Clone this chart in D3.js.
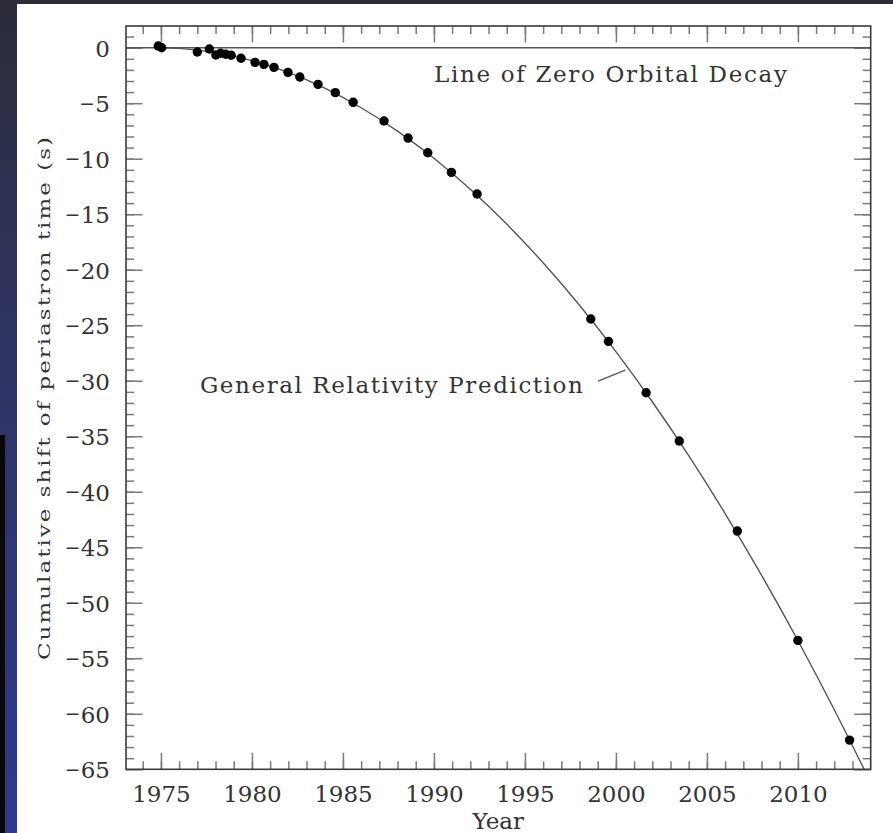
<!DOCTYPE html>
<html>
<head>
<meta charset="utf-8">
<script src="https://cdn.jsdelivr.net/npm/d3@7/dist/d3.min.js"></script>
<style>
  html, body { margin: 0; padding: 0; background: #ffffff; }
  svg { display: block; }
</style>
</head>
<body>
<script>
// ---- Data ----
const obsYears = [1974.85, 1975.04, 1977.0, 1977.66, 1978.02, 1978.28, 1978.56, 1978.86, 1979.4,
  1980.17, 1980.66, 1981.21, 1981.98, 1982.63, 1983.63, 1984.58, 1985.56, 1987.26, 1988.58,
  1989.66, 1990.96, 1992.37, 1998.62, 1999.59, 2001.66, 2003.48, 2006.67, 2010.0, 2012.84];
const obsShift = [0.15, 0.0, -0.39, -0.12, -0.66, -0.5, -0.59, -0.68, -0.95,
  -1.32, -1.5, -1.77, -2.22, -2.64, -3.30, -4.05, -4.92, -6.60, -8.14,
  -9.46, -11.23, -13.18, -24.44, -26.45, -31.08, -35.43, -43.54, -53.39, -62.37];

const grYears = [1974.8, 1976, 1978, 1980, 1982, 1984, 1986, 1988, 1990, 1992, 1994,
  1996, 1998, 2000, 2002, 2004, 2006, 2008, 2010, 2012, 2013.7];
const grShift = [0, -0.06, -0.44, -1.17, -2.23, -3.65, -5.41, -7.51, -9.96, -12.75, -15.89,
  -19.37, -23.20, -27.37, -31.89, -36.75, -41.96, -47.51, -53.40, -59.64, -65.2];

const xMajorTicks = [1975, 1980, 1985, 1990, 1995, 2000, 2005, 2010];
const xMinorTicks = d3.range(1974, 2014, 1);
const yMajorTicks = [0, -5, -10, -15, -20, -25, -30, -35, -40, -45, -50, -55, -60, -65];
const yMinorTicks = d3.range(-64, 2, 1);

const xLabel = "Year";
const yLabel = "Cumulative shift of periastron time (s)";
const zeroLabel = "Line of Zero Orbital Decay";
const grLabel = "General Relativity Prediction";

// ---- Layout ----
const W = 893, H = 833;
const plot = { left: 126, right: 870.7, top: 26, bottom: 769.3 };

const svg = d3.select("body").append("svg").attr("width", W).attr("height", H);

// slide background pieces
const defs = svg.append("defs");
const grad = defs.append("linearGradient").attr("id", "sideGrad")
  .attr("x1", 0).attr("y1", 0).attr("x2", 0).attr("y2", 1);
grad.append("stop").attr("offset", "0%").attr("stop-color", "#2c2d39");
grad.append("stop").attr("offset", "30%").attr("stop-color", "#2e3258");
grad.append("stop").attr("offset", "100%").attr("stop-color", "#2f3a8e");
svg.append("rect").attr("x", 0).attr("y", 0).attr("width", W).attr("height", 4).attr("fill", "#2c2d38");
svg.append("rect").attr("x", 0).attr("y", 0).attr("width", 17).attr("height", H).attr("fill", "url(#sideGrad)");
svg.append("rect").attr("x", 0).attr("y", 435).attr("width", 5).attr("height", H - 435).attr("fill", "#060906");

const x = d3.scaleLinear().domain([1973.08, 2014.0]).range([plot.left, plot.right]);
const y = d3.scaleLinear().domain([-65, 1.955]).range([plot.bottom, plot.top]);

const FONT = "'DejaVu Serif', 'Liberation Serif', serif";
const TXT = "#333333";
const TICK = "#7a7a7a";
const MAJ = 16.5, MIN = 8;

function styleAxis(g) {
  g.select(".domain").remove();
  g.selectAll(".tick line").attr("stroke", TICK).attr("stroke-width", 1.5);
}

// minor ticks
svg.append("g").attr("transform", `translate(0,${plot.bottom})`)
  .call(d3.axisBottom(x).tickValues(xMinorTicks).tickSizeInner(-MIN).tickSizeOuter(0).tickFormat(""))
  .call(styleAxis);
svg.append("g").attr("transform", `translate(0,${plot.top})`)
  .call(d3.axisTop(x).tickValues(xMinorTicks).tickSizeInner(-MIN).tickSizeOuter(0).tickFormat(""))
  .call(styleAxis);
svg.append("g").attr("transform", `translate(${plot.left},0)`)
  .call(d3.axisLeft(y).tickValues(yMinorTicks).tickSizeInner(-MIN).tickSizeOuter(0).tickFormat(""))
  .call(styleAxis);
svg.append("g").attr("transform", `translate(${plot.right},0)`)
  .call(d3.axisRight(y).tickValues(yMinorTicks).tickSizeInner(-MIN).tickSizeOuter(0).tickFormat(""))
  .call(styleAxis);

// major ticks with labels
const gx = svg.append("g").attr("transform", `translate(0,${plot.bottom})`)
  .call(d3.axisBottom(x).tickValues(xMajorTicks).tickSizeInner(-MAJ).tickSizeOuter(0).tickFormat(d3.format("d")))
  .call(styleAxis);
gx.selectAll(".tick text").attr("y", 32.4).attr("dy", 0)
  .attr("font-family", FONT).attr("font-size", 23).attr("fill", TXT);

svg.append("g").attr("transform", `translate(0,${plot.top})`)
  .call(d3.axisTop(x).tickValues(xMajorTicks).tickSizeInner(-MAJ).tickSizeOuter(0).tickFormat(""))
  .call(styleAxis);

const gy = svg.append("g").attr("transform", `translate(${plot.left},0)`)
  .call(d3.axisLeft(y).tickValues(yMajorTicks).tickSizeInner(-MAJ).tickSizeOuter(0)
    .tickFormat(d => d < 0 ? "\u2212" + Math.abs(d) : String(d)))
  .call(styleAxis);
gy.selectAll(".tick text").attr("x", -16).attr("y", 8.5).attr("dy", 0)
  .attr("font-family", FONT).attr("font-size", 23).attr("fill", TXT)
  .each(function (d) {
    if (d < 0) {
      const t = d3.select(this);
      t.text(null);
      t.append("tspan").attr("font-size", 18.5).attr("dy", -2.5).text("\u2212");
      t.append("tspan").attr("dy", 2.5).attr("dx", 0.5).text(Math.abs(d));
    }
  });

svg.append("g").attr("transform", `translate(${plot.right},0)`)
  .call(d3.axisRight(y).tickValues(yMajorTicks).tickSizeInner(-MAJ).tickSizeOuter(0).tickFormat(""))
  .call(styleAxis);

// clip
defs.append("clipPath").attr("id", "plotClip").append("rect")
  .attr("x", plot.left).attr("y", plot.top)
  .attr("width", plot.right - plot.left).attr("height", plot.bottom - plot.top);

// zero line
svg.append("line")
  .attr("x1", plot.left).attr("x2", plot.right)
  .attr("y1", y(0)).attr("y2", y(0))
  .attr("stroke", "#555").attr("stroke-width", 1.5);

// GR prediction curve
const grData = grYears.map((t, i) => [t, grShift[i]]);
svg.append("path")
  .datum(grData)
  .attr("clip-path", "url(#plotClip)")
  .attr("fill", "none")
  .attr("stroke", "#555")
  .attr("stroke-width", 1.4)
  .attr("d", d3.line().x(d => x(d[0])).y(d => y(d[1])).curve(d3.curveNatural));

// observed points
const obsData = obsYears.map((t, i) => [t, obsShift[i]]);
svg.append("g").selectAll("circle")
  .data(obsData)
  .join("circle")
  .attr("cx", d => x(d[0]))
  .attr("cy", d => y(d[1]))
  .attr("r", 4.7)
  .attr("fill", "#000");

// frame
svg.append("rect")
  .attr("x", plot.left).attr("y", plot.top)
  .attr("width", plot.right - plot.left).attr("height", plot.bottom - plot.top)
  .attr("fill", "none").attr("stroke", "#3a3a3a").attr("stroke-width", 1.6);

// annotations
svg.append("text")
  .attr("x", x(1990.0)).attr("y", y(-3.06))
  .attr("font-family", FONT).attr("font-size", 23).attr("fill", TXT)
  .attr("textLength", 353).attr("lengthAdjust", "spacing")
  .text(zeroLabel);

svg.append("text")
  .attr("x", x(1977.14)).attr("y", y(-31.1))
  .attr("font-family", FONT).attr("font-size", 23).attr("fill", TXT)
  .attr("textLength", 383).attr("lengthAdjust", "spacing")
  .text(grLabel);

svg.append("line")
  .attr("x1", x(1999.02)).attr("y1", y(-30.03))
  .attr("x2", x(2000.51)).attr("y2", y(-29.04))
  .attr("stroke", "#555").attr("stroke-width", 1.3);

// axis titles
svg.append("text")
  .attr("x", (plot.left + plot.right) / 2).attr("y", 829)
  .attr("text-anchor", "middle")
  .attr("font-family", FONT).attr("font-size", 23).attr("fill", TXT)
  .text(xLabel);

svg.append("text")
  .attr("transform", `translate(50,${(137 + 660) / 2}) rotate(-90) scale(1,0.72)`)
  .attr("text-anchor", "middle")
  .attr("font-family", FONT).attr("font-size", 23).attr("fill", TXT)
  .attr("textLength", 523).attr("lengthAdjust", "spacing")
  .text(yLabel);
</script>
</body>
</html>
